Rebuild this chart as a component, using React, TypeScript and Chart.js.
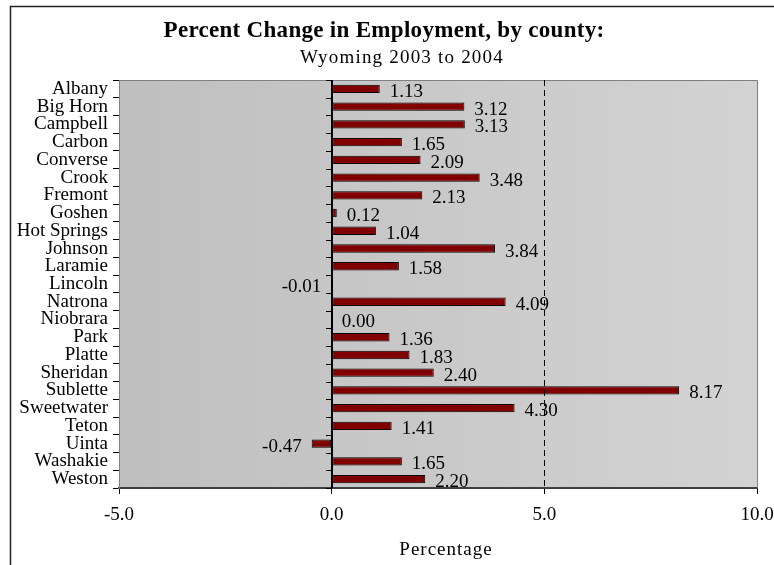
import React, { useEffect, useRef } from "react";
import { Chart, registerables } from "chart.js";

Chart.register(...registerables);

const counties = [
  "Albany", "Big Horn", "Campbell", "Carbon", "Converse", "Crook", "Fremont",
  "Goshen", "Hot Springs", "Johnson", "Laramie", "Lincoln", "Natrona", "Niobrara",
  "Park", "Platte", "Sheridan", "Sublette", "Sweetwater", "Teton", "Uinta",
  "Washakie", "Weston",
];
const changes = [
  1.13, 3.12, 3.13, 1.65, 2.09, 3.48, 2.13,
  0.12, 1.04, 3.84, 1.58, -0.01, 4.09, 0.0,
  1.36, 1.83, 2.40, 8.17, 4.30, 1.41, -0.47,
  1.65, 2.20,
];
const xMin = -5;
const xMax = 10;
const xStep = 5;
const dashedAt = 5;
const titleText = "Percent Change in Employment, by county:";
const subtitleText = "Wyoming 2003 to 2004";
const axisTitle = "Percentage";

const SERIF = "'Liberation Serif', 'Times New Roman', serif";

const decorPlugin = {
  id: "decor",
  beforeDraw(chart: any) {
    const { ctx, chartArea: a } = chart;
    ctx.save();
    const g = ctx.createLinearGradient(a.left, 0, a.right, 0);
    g.addColorStop(0, "#bfbfbf");
    g.addColorStop(1, "#d3d3d3");
    ctx.fillStyle = g;
    ctx.fillRect(a.left, a.top, a.right - a.left, a.bottom - a.top);
    // outer chart border
    ctx.strokeStyle = "#222";
    ctx.lineWidth = 1.5;
    ctx.beginPath();
    ctx.moveTo(10.5, chart.height + 2);
    ctx.lineTo(10.5, 6.5);
    ctx.lineTo(chart.width + 2, 6.5);
    ctx.stroke();
    ctx.restore();
  },
  afterDatasetsDraw(chart: any) {
    const { ctx, chartArea: a, scales } = chart;
    const xs = scales.x;
    ctx.save();
    // plot border top/right
    ctx.strokeStyle = "#808080";
    ctx.lineWidth = 1;
    ctx.beginPath();
    ctx.moveTo(a.left, a.top + 0.5);
    ctx.lineTo(a.right + 0.5, a.top + 0.5);
    ctx.lineTo(a.right + 0.5, a.bottom);
    ctx.stroke();
    // dashed line at 5
    const x5 = Math.round(xs.getPixelForValue(dashedAt)) + 0.5;
    ctx.strokeStyle = "#000";
    ctx.setLineDash([6, 4]);
    ctx.beginPath();
    ctx.moveTo(x5, a.top);
    ctx.lineTo(x5, a.bottom);
    ctx.stroke();
    ctx.setLineDash([]);
    // zero line with ticks
    const x0 = Math.round(xs.getPixelForValue(0));
    ctx.lineWidth = 2;
    ctx.beginPath();
    ctx.moveTo(x0, a.top);
    ctx.lineTo(x0, a.bottom);
    ctx.stroke();
    ctx.lineWidth = 1;
    const n = counties.length;
    const step = (a.bottom - a.top) / n;
    ctx.beginPath();
    for (let i = 0; i <= n; i++) {
      const y = Math.round(a.top + i * step) + 0.5;
      ctx.moveTo(x0 - 6, y);
      ctx.lineTo(x0, y);
    }
    ctx.stroke();
    // data labels
    const meta = chart.getDatasetMeta(0);
    ctx.font = "19px " + SERIF;
    ctx.fillStyle = "#000";
    ctx.textBaseline = "middle";
    meta.data.forEach((bar: any, i: number) => {
      const v = changes[i];
      const label = v.toFixed(2);
      const yy = bar.y + 3;
      if (v < 0) {
        ctx.textAlign = "right";
        ctx.fillText(label, bar.x - 10, yy);
      } else {
        ctx.textAlign = "left";
        ctx.fillText(label, bar.x + 10, yy);
      }
    });
    ctx.restore();
  },
  afterDraw(chart: any) {
    const { ctx } = chart;
    ctx.save();
    ctx.fillStyle = "#000";
    ctx.textAlign = "center";
    ctx.textBaseline = "middle";
    (ctx as any).letterSpacing = "0.3px";
    ctx.font = "bold 23px " + SERIF;
    ctx.fillText(titleText, 384, 31);
    (ctx as any).letterSpacing = "1.2px";
    ctx.font = "19px " + SERIF;
    ctx.fillText(subtitleText, 402, 58);
    (ctx as any).letterSpacing = "1px";
    ctx.font = "19px " + SERIF;
    ctx.fillText(axisTitle, 446, 550);
    ctx.restore();
  },
};

export default function App() {
  const ref = useRef<HTMLCanvasElement>(null);
  useEffect(() => {
    if (!ref.current) return;
    const chart = new Chart(ref.current, {
      type: "bar",
      data: {
        labels: counties,
        datasets: [
          {
            data: changes,
            backgroundColor: "#800000",
            borderColor: "#000",
            borderWidth: 1,
            borderSkipped: false,
            barPercentage: 0.47,
            categoryPercentage: 1,
          },
        ],
      },
      options: {
        indexAxis: "y",
        animation: false,
        responsive: false,
        layout: { padding: { left: 10, top: 80, right: 17, bottom: 0 } },
        plugins: {
          legend: { display: false },
          tooltip: { enabled: false },
          title: { display: false },
        },
        scales: {
          x: {
            type: "linear",
            min: xMin,
            max: xMax,
            afterFit: (s: any) => {
              s.height = 77;
              s.paddingLeft = 0;
              s.paddingRight = 0;
            },
            ticks: {
              stepSize: xStep,
              callback: (v: any) => Number(v).toFixed(1),
              color: "#000",
              font: { family: SERIF, size: 19 },
              padding: 10,
              maxRotation: 0,
            },
            grid: {
              drawOnChartArea: false,
              drawTicks: true,
              tickLength: 6,
              tickColor: "#000",
              color: "#000",
            },
            border: { color: "#404040", width: 2 },
          },
          y: {
            type: "category",
            afterFit: (s: any) => {
              s.width = 109;
              s.paddingTop = 0;
              s.paddingBottom = 0;
            },
            ticks: {
              color: "#000",
              font: { family: SERIF, size: 19 },
              padding: 5,
              autoSkip: false,
            },
            grid: {
              offset: true,
              drawOnChartArea: false,
              tickLength: 6,
              tickColor: "#000",
              color: "#000",
            },
            border: { color: "#808080", width: 1 },
          },
        },
      },
      plugins: [decorPlugin],
    } as any);
    return () => chart.destroy();
  }, []);
  return (
    <canvas
      ref={ref}
      width={774}
      height={565}
      style={{ position: "absolute", left: 0, top: 0, width: 774, height: 565 }}
    />
  );
}
